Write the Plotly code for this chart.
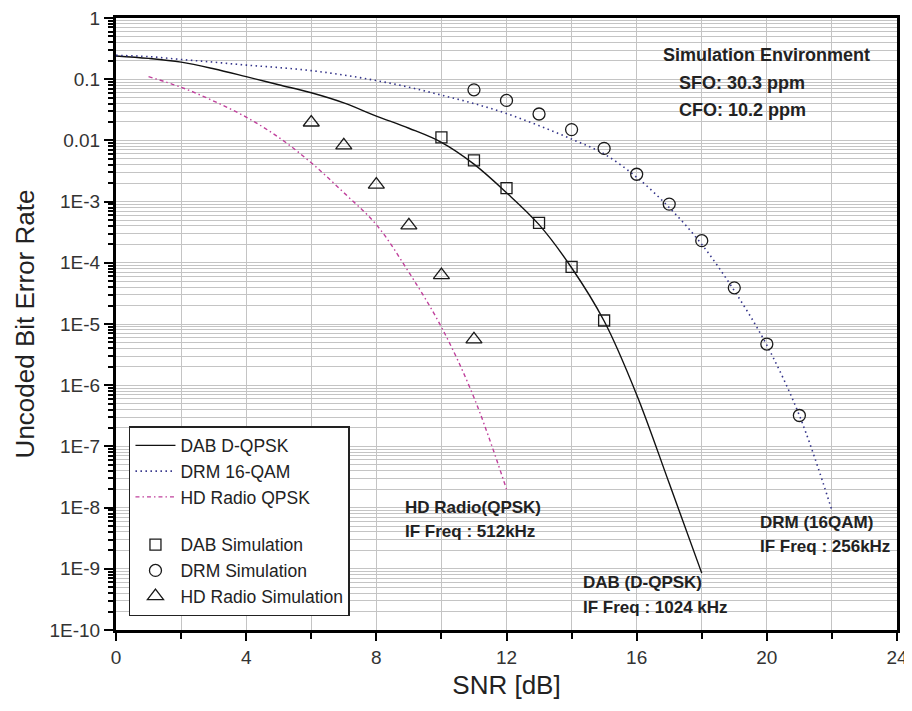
import plotly.graph_objects as go

# ---------------- data ----------------
snr_dab_line = list(range(0, 19))
ber_dab_line = [0.24, 0.219, 0.19, 0.148, 0.11, 0.081, 0.06, 0.041, 0.025, 0.0158,
                0.0093, 0.0041, 0.0014, 4.2e-4, 8.3e-5, 1.12e-5, 7e-7, 2.5e-8, 8.5e-10]

snr_drm_line = list(range(0, 23))
ber_drm_line = [0.245, 0.234, 0.21, 0.19, 0.17, 0.155, 0.138, 0.117, 0.095, 0.074,
                0.055, 0.04, 0.0275, 0.0174, 0.0105, 0.006, 0.0025, 8e-4, 2e-4,
                3.5e-5, 4.5e-6, 3.2e-7, 9e-9]

snr_hd_line = list(range(1, 13))
ber_hd_line = [0.11, 0.074, 0.044, 0.024, 0.0112, 0.0043, 0.0014, 4.2e-4, 7e-5,
               8.9e-6, 6.3e-7, 2e-8]

snr_dab_sim = [10, 11, 12, 13, 14, 15]
ber_dab_sim = [0.0112, 0.0047, 0.00166, 4.5e-4, 8.6e-5, 1.14e-5]

snr_drm_sim = [11, 12, 13, 14, 15, 16, 17, 18, 19, 20, 21]
ber_drm_sim = [0.067, 0.045, 0.027, 0.015, 0.0074, 0.0028, 9.1e-4, 2.3e-4, 3.9e-5, 4.7e-6, 3.2e-7]

snr_hd_sim = [6, 7, 8, 9, 10, 11]
ber_hd_sim = [0.0196, 0.0083, 0.0019, 4.1e-4, 6.3e-5, 5.6e-6]

y_tick_vals = [1, 0.1, 0.01, 1e-3, 1e-4, 1e-5, 1e-6, 1e-7, 1e-8, 1e-9, 1e-10]
y_tick_text = ["1", "0.1", "0.01", "1E-3", "1E-4", "1E-5", "1E-6", "1E-7", "1E-8", "1E-9", "1E-10"]
x_tick_vals = [0, 4, 8, 12, 16, 20, 24]
x_minor_vals = [2, 6, 10, 14, 18, 22]

# ---------------- figure ----------------
FONT = "Liberation Sans, Arial, sans-serif"
fig = go.Figure()

fig.add_trace(go.Scatter(x=snr_dab_line, y=ber_dab_line, mode="lines", name="DAB D-QPSK",
                         line=dict(color="#111111", width=1.4, shape="spline"),
                         legendgroup="lines"))
fig.add_trace(go.Scatter(x=snr_drm_line, y=ber_drm_line, mode="lines", name="DRM 16-QAM",
                         line=dict(color="#34348a", width=1.6, dash="1.5px,3.5px", shape="spline"),
                         legendgroup="lines"))
fig.add_trace(go.Scatter(x=snr_hd_line, y=ber_hd_line, mode="lines", name="HD Radio QPSK",
                         line=dict(color="#c0409c", width=1.4, dash="4px,3px,1.5px,3px", shape="spline"),
                         legendgroup="lines"))

mk_line = dict(color="#1a1a1a", width=1.3)
fig.add_trace(go.Scatter(x=snr_dab_sim, y=ber_dab_sim, mode="markers", name="DAB Simulation",
                         marker=dict(symbol="square-open", size=11, color="#1a1a1a", line=mk_line),
                         legendgroup="sims"))
fig.add_trace(go.Scatter(x=snr_drm_sim, y=ber_drm_sim, mode="markers", name="DRM Simulation",
                         marker=dict(symbol="circle-open", size=12, color="#1a1a1a", line=mk_line),
                         legendgroup="sims"))
fig.add_trace(go.Scatter(x=snr_hd_sim, y=ber_hd_sim, mode="markers", name="HD Radio Simulation",
                         marker=dict(symbol="triangle-up-open", size=14, color="#1a1a1a", line=mk_line),
                         legendgroup="sims"))

# minor y gridlines / ticks positions (2..9 per decade)
y_minor_vals = []
for e in range(-10, 0):
    for m in range(2, 10):
        y_minor_vals.append(m * 10.0 ** e)

grid_col = "#c4c4c4"
fig.update_xaxes(range=[0, 24], tickvals=x_tick_vals, ticks="outside", ticklen=8, tickwidth=2,
                 tickcolor="black", showline=True, linewidth=3, linecolor="black", mirror=True,
                 showgrid=True, gridcolor=grid_col, gridwidth=1, zeroline=False, automargin=False,
                 ticklabeloverflow="allow",
                 tickfont=dict(family=FONT, size=19, color="#333333"),
                 minor=dict(tickvals=x_minor_vals, ticks="outside", ticklen=6, tickwidth=2,
                            tickcolor="black", showgrid=True, gridcolor=grid_col, gridwidth=1),
                 title=dict(text="SNR [dB]", font=dict(family=FONT, size=26, color="#222222"),
                            standoff=10))
fig.update_yaxes(type="log", range=[-10, 0], tickvals=y_tick_vals, ticktext=y_tick_text,
                 ticks="outside", ticklen=9, tickwidth=2, tickcolor="black",
                 showline=True, linewidth=3, linecolor="black", mirror=True,
                 showgrid=True, gridcolor=grid_col, gridwidth=1, zeroline=False, automargin=False,
                 ticklabeloverflow="allow",
                 tickfont=dict(family=FONT, size=19, color="#333333"),
                 minor=dict(tickvals=y_minor_vals, ticks="outside", ticklen=5, tickwidth=1.5,
                            tickcolor="black", showgrid=True, gridcolor=grid_col, gridwidth=1),
                 title=dict(text="Uncoded Bit Error Rate",
                            font=dict(family=FONT, size=26, color="#222222"), standoff=8))

ann_font = dict(family=FONT, size=17, color="#222222")
labels = [
    (8.82, -8.0, "<b>HD Radio(QPSK)</b>", "left"),
    (8.82, -8.39, "<b>IF Freq : 512kHz</b>", "left"),
    (14.29, -9.22, "<b>DAB (D-QPSK)</b>", "left"),
    (14.29, -9.63, "<b>IF Freq : 1024 kHz</b>", "left"),
    (19.73, -8.24, "<b>DRM (16QAM)</b>", "left"),
    (19.73, -8.63, "<b>IF Freq : 256kHz</b>", "left"),
]
for x, y, t, xa in labels:
    fig.add_annotation(x=x, y=y, text=t, showarrow=False, xanchor=xa, yanchor="middle",
                       font=ann_font)
env_font = dict(family=FONT, size=18, color="#222222")
for x, y, t in [(20.0, -0.6, "<b>Simulation Environment</b>"),
                (19.25, -1.07, "<b>SFO: 30.3 ppm</b>"),
                (19.25, -1.51, "<b>CFO: 10.2 ppm</b>")]:
    fig.add_annotation(x=x, y=y, text=t, showarrow=False, xanchor="center", yanchor="middle",
                       font=env_font)

# page body has an 8px default margin; size the figure so the plot frame lands where the
# reference has it
fig.update_layout(
    width=904, height=703,
    margin=dict(l=108, r=15, t=10, b=81, autoexpand=False),
    plot_bgcolor="white", paper_bgcolor="white",
    showlegend=True,
    legend=dict(x=0.0166, y=0.0228, xanchor="left", yanchor="bottom",
                bgcolor="white", bordercolor="#222222", borderwidth=1.5,
                font=dict(family=FONT, size=17.5, color="#222222"),
                traceorder="grouped", tracegroupgap=22, itemwidth=40),
)

fig.write_html("out.html")
